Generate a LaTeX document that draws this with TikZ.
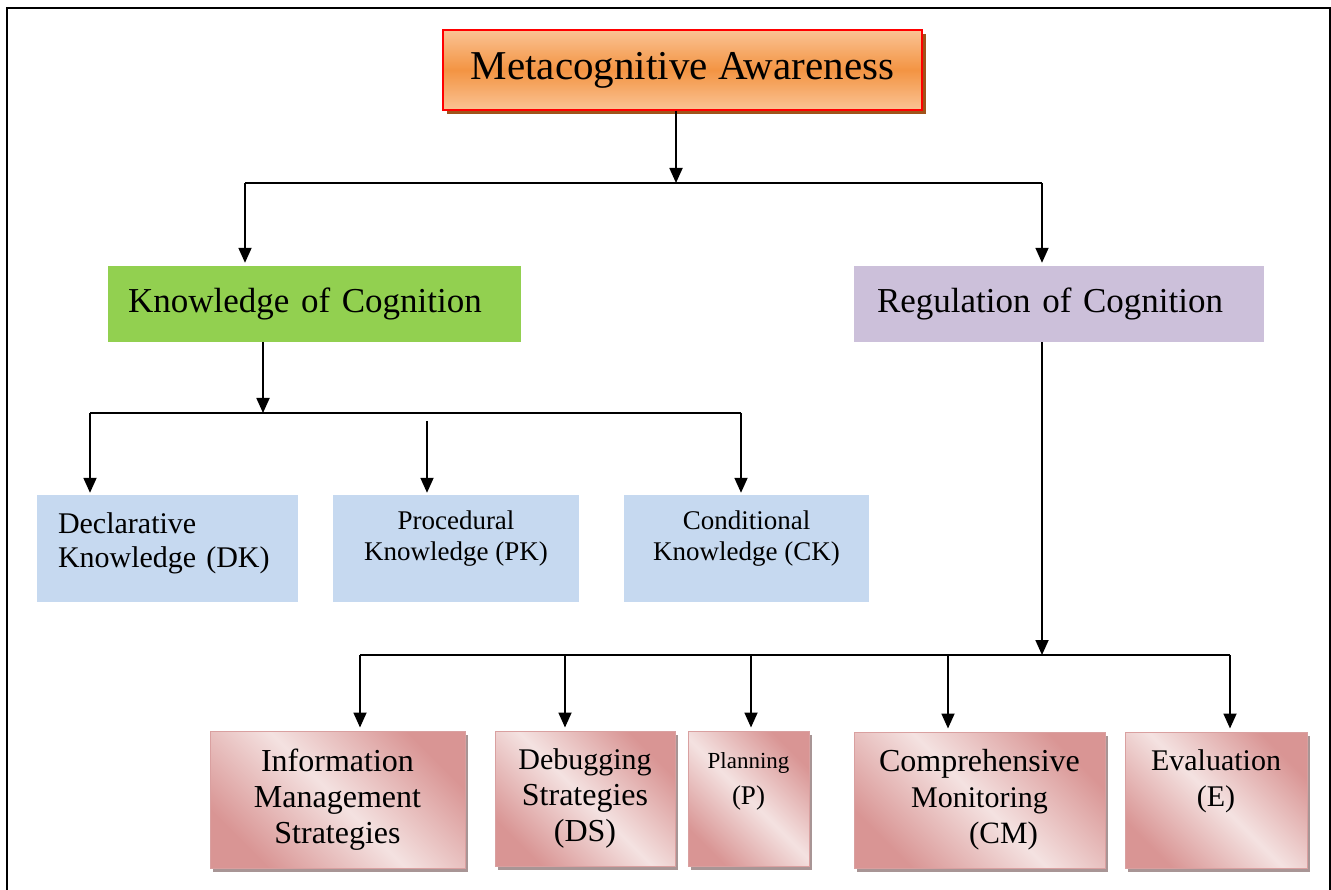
\documentclass[tikz,border=0pt]{standalone}
\usepackage{fontspec}
\setmainfont{Liberation Serif}
\usetikzlibrary{arrows.meta,shadows}
\definecolor{orL}{HTML}{FAC394}
\definecolor{orD}{HTML}{F39443}
\definecolor{shbrown}{HTML}{A0531A}
\definecolor{kgreen}{HTML}{92D050}
\definecolor{rlav}{HTML}{CCC0DA}
\definecolor{kblue}{HTML}{C6D9F0}
\definecolor{pinkD}{HTML}{D99594}
\definecolor{pinkL}{HTML}{F4E2E1}
\definecolor{pinkB}{HTML}{D9A0A0}
\definecolor{pshadow}{HTML}{A89595}
\newcommand{\fsz}[2]{\fontsize{#1pt}{#2pt}\selectfont}
\tikzset{
  arr/.style={line width=1.8pt, -{Triangle[length=15pt,width=13pt]}},
  ln/.style={line width=1.5pt},
  topbox/.style={draw=red, line width=1.5pt, top color=orL, bottom color=orL, middle color=orD,
    drop shadow={shadow xshift=4pt, shadow yshift=-4pt, fill=shbrown, opacity=1},
    minimum width=479pt, minimum height=80pt, inner sep=0pt, font=\fsz{41}{46}},
  midbox/.style={minimum height=76pt, inner ysep=0pt, align=left, font=\fsz{35}{40}},
  kbox/.style={fill=kblue, minimum height=107pt, inner ysep=0pt},
  pbox/.style={draw=pinkB, line width=1pt, top color=pinkD, bottom color=pinkD, middle color=pinkL,
    shading angle=-45,
    drop shadow={shadow xshift=3pt, shadow yshift=-4pt, fill=pshadow, opacity=1},
    inner sep=0pt, align=center, font=\fsz{32}{36}},
}
\begin{document}
\begin{tikzpicture}[x=1pt, y=-1pt]
\useasboundingbox (0,0) rectangle (1331,890);
\draw[line width=2pt] (7,891) -- (7,8) -- (1330,8) -- (1330,891);

% top
\node[topbox] (ma) at (682.5,70) {Metacognitive Awareness};

% second level
\node[midbox, fill=kgreen, inner xsep=20pt, text width=373pt] (koc) at (314.5,304) {Knowledge of Cognition};
\node[midbox, fill=rlav, inner xsep=23pt, text width=364pt] (roc) at (1059,304) {Regulation of Cognition};

% knowledge boxes
\node[kbox, inner xsep=21pt, text width=219pt, align=left, font=\fsz{30}{34}] (dk) at (167.5,548.5)
  {Declarative\\Knowledge (DK)\rule[-16pt]{0pt}{0pt}};
\node[kbox, minimum width=246pt, align=center, font=\fsz{27}{31}] (pk) at (456,548.5)
  {Procedural\\Knowledge (PK)\rule[-25pt]{0pt}{0pt}};
\node[kbox, minimum width=245pt, align=center, font=\fsz{27}{31}] (ck) at (746.5,548.5)
  {Conditional\\Knowledge (CK)\rule[-25pt]{0pt}{0pt}};

% regulation boxes
\node[pbox, minimum width=255pt, minimum height=137pt] (ims) at (337.5,799.5)
  {Information\\Management\\Strategies};
\node[pbox, minimum width=180pt, minimum height=135pt] (ds) at (585,798.5)
  {{\fsz{30}{36}Debugging}\\Strategies\\(DS)};
\node[pbox, minimum width=121pt, minimum height=135pt] (pl) at (748.5,798.5)
  {{\fsz{23}{36}Planning}\\{\fsz{27}{36}(P)}\\[-6pt]\strut};
\node[pbox, minimum width=251pt, minimum height=136pt] (cm) at (979.5,800)
  {Comprehensive\\{\fsz{30}{36}Monitoring}\\\hspace*{48pt}{\fsz{31}{36}(CM)}};
\node[pbox, minimum width=182pt, minimum height=136pt, font=\fsz{30}{36}] (ev) at (1216,800)
  {Evaluation\\(E)\\[-3pt]\strut};

% connectors level 1
\coordinate (j1) at (676,183);
\coordinate (jl) at (245,183);
\coordinate (jr) at (1042,183);
\draw[arr] (ma.south -| j1) -- (j1);
\draw[ln] (jl) -- (jr);
\draw[arr] (jl) -- ([yshift=3pt]koc.north -| jl);
\draw[arr] (jr) -- ([yshift=3pt]roc.north -| jr);

% knowledge connectors
\coordinate (j2) at (263,413);
\coordinate (k1) at (90,413);
\coordinate (k2) at (427,421);
\coordinate (k3) at (741,413);
\draw[arr] (koc.south -| j2) -- (j2);
\draw[ln] (k1) -- (k3);
\draw[arr] (k1) -- ([yshift=2pt]dk.north -| k1);
\draw[arr] (k2) -- ([yshift=2pt]pk.north -| k2);
\draw[arr] (k3) -- ([yshift=2pt]ck.north -| k3);

% regulation connectors
\coordinate (j3) at (1042,655);
\coordinate (r1) at (360,655);
\coordinate (r2) at (565,655);
\coordinate (r3) at (751,655);
\coordinate (r4) at (948,655);
\coordinate (r5) at (1230,655);
\draw[arr] (roc.south -| j3) -- (j3);
\draw[ln] (r1) -- (r5);
\draw[arr] (r1) -- ([yshift=3pt]ims.north -| r1);
\draw[arr] (r2) -- ([yshift=3pt]ds.north -| r2);
\draw[arr] (r3) -- ([yshift=3pt]pl.north -| r3);
\draw[arr] (r4) -- ([yshift=3pt]cm.north -| r4);
\draw[arr] (r5) -- ([yshift=3pt]ev.north -| r5);
\end{tikzpicture}
\end{document}
